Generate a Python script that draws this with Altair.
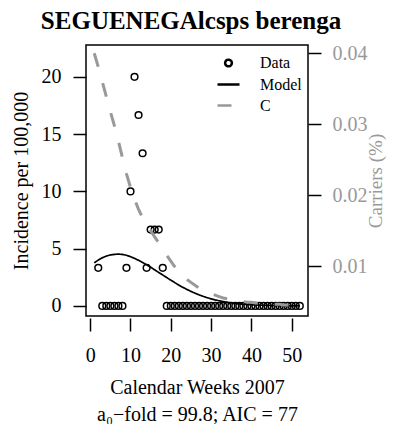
import altair as alt
import pandas as pd

# Observed data (weeks 2..52)
weeks_obs = [2, 3, 4, 5, 6, 7, 8, 9, 10, 11, 12, 13, 14, 15, 16, 17, 18, 19, 20,
             21, 22, 23, 24, 25, 26, 27, 28, 29, 30, 31, 32, 33, 34, 35, 36, 37,
             38, 39, 40, 41, 42, 43, 44, 45, 46, 47, 48, 49, 50, 51, 52]
incidence = [3.33, 0, 0, 0, 0, 0, 0, 3.33, 10.0, 20.0, 16.67, 13.33, 3.33, 6.67,
             6.67, 6.67, 3.33, 0, 0, 0, 0, 0, 0, 0, 0, 0, 0, 0, 0, 0, 0, 0, 0,
             0, 0, 0, 0, 0, 0, 0, 0, 0, 0, 0, 0, 0, 0, 0, 0, 0, 0]

# Model and carriers (weeks 1..52)
weeks_model = [1, 2, 3, 4, 5, 6, 7, 8, 9, 10, 11, 12, 13, 14, 15, 16, 17, 18,
               19, 20, 21, 22, 23, 24, 25, 26, 27, 28, 29, 30, 31, 32, 33, 34,
               35, 36, 37, 38, 39, 40, 41, 42, 43, 44, 45, 46, 47, 48, 49, 50,
               51, 52]
model = [3.76, 4.0, 4.2, 4.35, 4.45, 4.5, 4.52, 4.5, 4.42, 4.3, 4.15, 3.98, 3.8,
         3.6, 3.38, 3.15, 2.92, 2.7, 2.47, 2.25, 2.03, 1.82, 1.62, 1.44, 1.27,
         1.11, 0.97, 0.84, 0.72, 0.62, 0.53, 0.45, 0.38, 0.32, 0.27, 0.22, 0.18,
         0.15, 0.12, 0.10, 0.08, 0.065, 0.05, 0.04, 0.03, 0.025, 0.02, 0.015,
         0.01, 0.008, 0.006, 0.005]
carriers = [0.0400, 0.0381, 0.0360, 0.0339, 0.0318, 0.0298, 0.0276, 0.0253,
            0.0230, 0.0211, 0.0194, 0.0180, 0.0168, 0.0158, 0.0150, 0.0141,
            0.0133, 0.0124, 0.0115, 0.0107, 0.0099, 0.0092, 0.0086, 0.0081,
            0.0077, 0.0073, 0.0069, 0.0066, 0.0063, 0.0061, 0.0059, 0.0057,
            0.0055, 0.0054, 0.0053, 0.0052, 0.0051, 0.0050, 0.0049, 0.0049,
            0.0048, 0.0048, 0.0047, 0.0047, 0.0046, 0.0046, 0.0046, 0.0045,
            0.0045, 0.0045, 0.0045, 0.0044]

series_names = ["Data", "Model", "C"]
series_colors = ["black", "black", "#999999"]
chart_title = ["SEGUENEGAlcsps berenga"]

df_obs = pd.DataFrame({"week": weeks_obs, "value": incidence, "series": "Data"})
df_model = pd.DataFrame({"week": weeks_model, "value": model, "series": "Model"})
df_c = pd.DataFrame({"week": weeks_model, "value": carriers, "series": "C"})
df_title = pd.DataFrame({"t": chart_title})

FONT = "Liberation Serif"
GRAY = "#999999"

legend = alt.Legend(title=None, orient="none", legendX=130, legendY=10,
                    labelFont=FONT, labelFontSize=16, labelColor="black",
                    labelOffset=19, symbolStrokeWidth=2.5, padding=0, rowPadding=0)

color = alt.Color("series:N", scale=alt.Scale(domain=series_names, range=series_colors),
                  legend=legend)
shape = alt.Shape("series:N", scale=alt.Scale(domain=series_names,
                                              range=["circle", "stroke", "stroke"]),
                  legend=legend)
size = alt.Size("series:N", scale=alt.Scale(type="ordinal", domain=series_names,
                                            range=[45, 484, 484]),
                legend=legend)
dash = alt.StrokeDash("series:N", scale=alt.Scale(domain=series_names,
                                                  range=[[1, 0], [1, 0], [14, 17]]),
                      legend=legend)

xenc = alt.X("week:Q", scale=alt.Scale(domain=[-1.04, 54.04], nice=False, zero=False),
             axis=alt.Axis(values=[0, 10, 20, 30, 40, 50], labelPadding=14,
                           titlePadding=12, titleLineHeight=27, offset=2),
             title=["Calendar Weeks 2007", "a\u2080\u2212fold = 99.8; AIC = 77"])

yleft_scale = alt.Scale(domain=[-0.88, 22.78], nice=False, zero=False)

points = alt.Chart(df_obs).mark_point(filled=False, strokeWidth=1.5, opacity=1).encode(
    x=xenc,
    y=alt.Y("value:Q", scale=yleft_scale,
            axis=alt.Axis(values=[0, 5, 10, 15, 20], orient="left", labelPadding=12,
                          titlePadding=10),
            title="Incidence per 100,000"),
    color=color, shape=shape, size=size,
)

model_line = alt.Chart(df_model).mark_line(strokeWidth=1.7).encode(
    x=xenc,
    y=alt.Y("value:Q", scale=yleft_scale, axis=None),
    color=color, strokeDash=dash,
)

c_line = alt.Chart(df_c).mark_line(strokeWidth=3).encode(
    x=xenc,
    y=alt.Y("value:Q", scale=alt.Scale(domain=[0.00296, 0.04117], nice=False, zero=False),
            axis=alt.Axis(values=[0.01, 0.02, 0.03, 0.04], orient="right", format=".2f",
                          labelColor=GRAY, titleColor=GRAY, labelPadding=11,
                          titleAngle=270, titlePadding=18, titleFontSize=19),
            title="Carriers (%)"),
    color=color, strokeDash=dash,
)

title_text = alt.Chart(df_title).mark_text(
    font=FONT, fontSize=25, fontWeight="bold", color="black",
    align="center", baseline="alphabetic",
).encode(text="t:N", x=alt.value(105), y=alt.value(-16))

chart = alt.layer(points, model_line, c_line, title_text).resolve_scale(
    y="independent").properties(
    width=222, height=271,
    autosize=alt.AutoSizeParams(type="none"),
    padding={"left": 78, "top": 37, "right": 78, "bottom": 108},
).configure_view(stroke="black", strokeWidth=1.5).configure_axis(
    grid=False, domain=False, tickColor="black", tickWidth=1.5, tickSize=13,
    labelFont=FONT, labelFontSize=20, labelColor="black",
    titleFont=FONT, titleFontSize=20, titleFontWeight="normal", titleColor="black",
)

chart.save("out.html", embed_options={"renderer": "svg", "actions": False})
